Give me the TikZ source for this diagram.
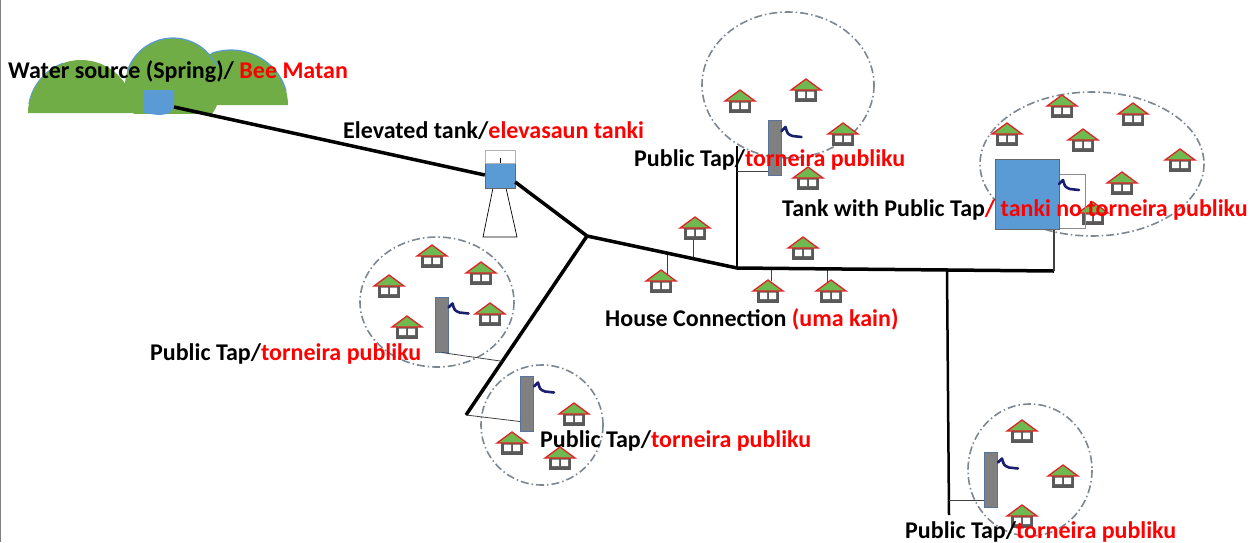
\documentclass[tikz,border=0pt]{standalone}
\usepackage{fontspec}
\setmainfont{Carlito}
\usetikzlibrary{calc}

\definecolor{hill green}{RGB}{112,173,71}
\definecolor{water blue}{RGB}{91,155,213}
\definecolor{roof red}{RGB}{225,35,40}
\definecolor{roof green}{RGB}{110,185,80}
\definecolor{wall grey}{RGB}{89,89,89}
\definecolor{ring grey}{RGB}{125,135,145}
\definecolor{tap grey}{RGB}{128,128,128}
\definecolor{tap edge}{RGB}{85,115,155}
\definecolor{spout blue}{RGB}{25,30,110}
\definecolor{label red}{RGB}{255,0,0}
\colorlet{tank edge}{black!60}

\tikzset{
  pipe/.style={line width=3.5pt, line join=round},
  riser/.style={line width=2.5pt},
  service/.style={line width=0.8pt, black!75},
  ring/.style={draw=ring grey, line width=1.6pt, dash pattern=on 8pt off 3pt on 1.5pt off 3pt},
  rim/.style={water blue, line width=1.2pt},
  post/.style={rectangle, fill=tap grey, draw=tap edge, line width=1pt,
    minimum width=13pt, minimum height=55pt, inner sep=0pt},
  tag/.style={anchor=base west, inner sep=0pt, font=\bfseries\fontsize{24}{28}\selectfont},
  house/.pic={
    \fill[wall grey] (-11,0) rectangle (11,12);
    \fill[white] (-8,1.5) rectangle (-1,8) (1,1.5) rectangle (8,8);
    \filldraw[fill=roof green, draw=roof red, line width=1.3pt] (-15,0) -- (0,-11) -- (15,0) -- cycle;
  },
  spout/.pic={
    \draw[spout blue, line width=2.6pt, line cap=round, line join=round]
      (0,1) -- (4,-3) .. controls (6,4) .. (11,6) -- (20,7);
  }
}
\newcommand{\red}[1]{\textcolor{label red}{#1}}

\begin{document}
\begin{tikzpicture}[x=1pt, y=-1pt]
\useasboundingbox (0,0) rectangle (1256,542);
\draw[black!50, line width=1pt] (0.5,0) -- (0.5,542);

% spring on the hills
\begin{scope}
  \clip (0,0) rectangle (300,113);
  \fill[hill green] (174,105) arc[start angle=180, end angle=360, x radius=57, y radius=55] -- cycle;
  \fill[hill green] (28,113) arc[start angle=180, end angle=360, x radius=53, y radius=53] -- cycle;
  \fill[hill green] (173,86) circle (48);
  \draw[rim] (231,105) ++(250:57 and 55) arc[start angle=250, end angle=345, x radius=57, y radius=55];
  \draw[rim, line width=0.8pt] (81,113) ++(190:53) arc[start angle=190, end angle=250, radius=53];
  \draw[rim] (173,86) ++(198:48) arc[start angle=198, end angle=335, radius=48];
\end{scope}
\fill[water blue] (143,90) -- (174,90) -- (174,104) .. controls (174,113) and (166,115) .. (158,115) -- (143,113) -- cycle;
\coordinate (spring) at (174,107);

% elevated tank
\draw[line width=0.7pt] (493,188) -- (483,237) -- (517,237) -- (506,188);
\node[rectangle, fill=water blue, draw=tank edge, minimum width=30pt, minimum height=38pt, inner sep=0pt] (tank) at (500,169) {};
\filldraw[fill=white, draw=tank edge!50] (tank.north west) rectangle ++(30,13);
\draw[line width=0.6pt] (500,158) -- (500,163);

% pipe junctions
\coordinate (j1) at (587,236);
\coordinate (j2) at (737,268);
\coordinate (j3) at (947,270);
\coordinate (tank feed) at (1054,271);
\coordinate (riser top) at (737,146);
\coordinate (down end) at (949,515);
\coordinate (branch end) at (466,415);

% service stubs to houses
\coordinate (hs1) at (693,258);
\coordinate (hs2) at (667,253);
\coordinate (hs3) at (771,269);
\coordinate (hs4) at (827,269);
\draw[service] (hs1) -- ++(0,-18);
\draw[service] (hs2) -- ++(0,21);
\draw[service] (hs3) -- ++(0,12);
\draw[service] (hs4) -- ++(0,14);

% mains
\draw[pipe] (spring) -- ([yshift=-6pt]tank.west);
\draw[pipe] ([yshift=-13pt]tank.east) -- (j1) -- (j2) -- (tank feed);
\draw[pipe] (j1) -- (branch end);
\draw[riser] (j2) -- (riser top);
\draw[riser] (j3) -- (down end);

% community circles
\draw[ring] (788,85) ellipse [x radius=86, y radius=73];
\draw[ring] (1092,164) ellipse [x radius=112, y radius=72];
\draw[ring] (437,302) ellipse [x radius=77, y radius=65];
\draw[ring] (542,425) ellipse [x radius=61, y radius=60];
\draw[ring] (1030,470) ellipse [x radius=62, y radius=66];

% houses
\foreach \hx/\hy in {740/101, 806/90, 843/134, 808/178,
    1007/134, 1062/106, 1133/114, 1083/140, 1180/160, 1122/183, 1093/213,
    1022/431, 1063/476, 1022/516,
    574/414, 512/443, 560/458,
    432/256, 481/273, 389/286, 490/314, 407/327}
  \pic at (\hx,\hy) {house};
\path (695,228) coordinate (hc1) pic {house};
\path (661,281) coordinate (hc2) pic {house};
\path (768,291) coordinate (hc3) pic {house};
\path (803,248) coordinate (hc4) pic {house};
\path (831,291) coordinate (hc5) pic {house};

% public taps
\node[post] (tap1) at (774.5,148) {};
\node[post] (tap2) at (441.5,324.5) {};
\node[post] (tap3) at (527,403.5) {};
\node[post] (tap4) at (991,479.5) {};
\foreach \t in {tap1, tap2, tap3, tap4}
  \pic at ([yshift=-10pt]\t.north east) {spout};

\coordinate (f1) at (737,171);
\coordinate (f2) at ($(j1)!0.7!(branch end)$);
\coordinate (f4) at (949,500);
\draw[service] (f1) -- (f1 -| tap1.west);
\draw[service] (tap2.south) -- (f2);
\draw[service] (branch end) -- ([yshift=-18pt]tap3.west);
\draw[service] (f4) -- (f4 -| tap4.west);

% tank with public tap
\draw[black!45, line width=0.6pt] (1059,174) rectangle (1085,228);
\node[rectangle, fill=water blue, draw=tank edge, line width=1pt, minimum width=64pt, minimum height=70pt, inner sep=0pt] (big tank) at (1027,194) {};
\pic at (1059,183) {spout};
\draw[service, line width=1.2pt] (tank feed) -- (tank feed |- big tank.south);

% labels
\node[tag] (spring label) at (8,78) {Water source (Spring)/ \red{Bee Matan}};
\node[tag] (tank label) at (343,138) {Elevated tank/\red{elevasaun tanki}};
\node[tag] (tap1 label) at (634,166) {Public Tap/\red{torneira publiku}};
\node[tag] (big tank label) at (782,216) {Tank with Public Tap\red{/ tanki no torneira publiku}};
\node[tag] (house label) at (605,326) {House Connection \red{(uma kain)}};
\node[tag] (tap2 label) at (150,360) {Public Tap/\red{torneira publiku}};
\node[tag] (tap3 label) at (540,447) {Public Tap/\red{torneira publiku}};
\node[tag] (tap4 label) at (905,538) {Public Tap/\red{torneira publiku}};
\end{tikzpicture}
\end{document}
